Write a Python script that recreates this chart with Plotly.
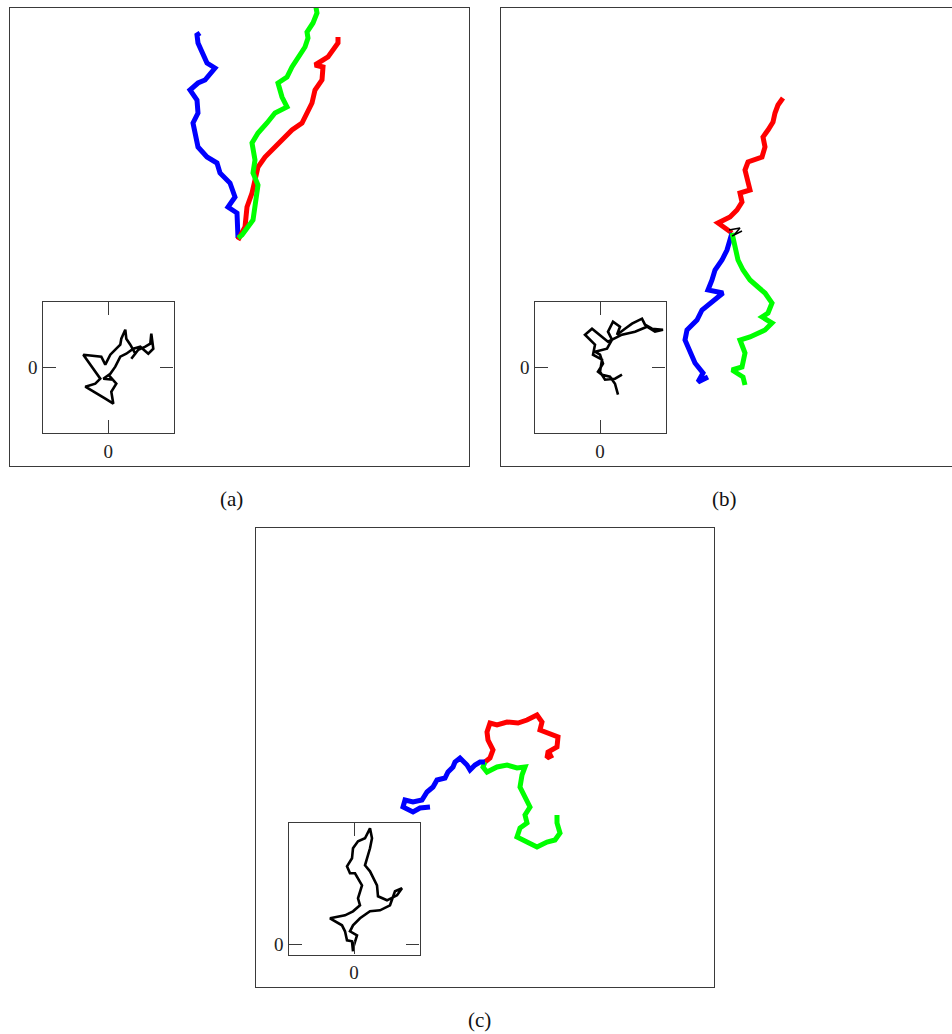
import plotly.graph_objects as go

W, H = 952, 1034

# ---------------- data (walk coordinates, origin = common start) ----------------
# Panel (a) main paths
a_blue_x = [0, 0, -1, -10, -3, -8, -18, -21, -31, -40, -43, -45, -40, -41, -48, -40, -33, -26, -23, -31, -36, -40, -41, -38]
a_blue_y = [0, 5, 25, 31, 41, 55, 65, 75, 81, 91, 105, 115, 125, 138, 148, 155, 158, 166, 170, 175, 185, 195, 203, 205]
a_green_x = [0, 4, 15, 17, 19, 20, 15, 17, 14, 20, 29, 37, 49, 44, 40, 49, 54, 60, 67, 70, 69, 75, 79, 77]
a_green_y = [0, 3, 18, 31, 41, 53, 65, 78, 95, 105, 115, 125, 131, 141, 155, 161, 171, 181, 191, 200, 206, 215, 225, 236]
a_red_x = [0, 7, 9, 14, 17, 20, 27, 34, 44, 54, 64, 69, 74, 77, 84, 85, 77, 90, 95, 100, 100]
a_red_y = [-2, 11, 31, 45, 58, 71, 81, 88, 98, 108, 115, 125, 135, 148, 158, 171, 173, 181, 188, 195, 201]
# Panel (a) inset path
a_in_x = [0, 8, 3, 5, -3, -10, -15, -23, -13, -8, -25, -7, -3, 2, 8, 12, 13, 17, 18, 22, 27, 23, 30, 37, 42, 43, 45, 40, 32, 25, 18, 12, 7, 2, -5, 5]
a_in_y = [-7, -16, -24, -36, -31, -27, -24, -19, -16, -11, 13, 11, 3, 13, 19, 23, 29, 38, 29, 23, 14, 9, 18, 21, 24, 34, 19, 14, 21, 19, 14, 11, 1, -6, -11, -12]

# Panel (b) main paths
b_red_x = [0, -9, -14, -2, 5, 10, 8, 18, 16, 13, 16, 23, 30, 33, 31, 36, 41, 43, 46, 51]
b_red_y = [0, 6, 10, 16, 23, 31, 40, 43, 53, 63, 71, 73, 76, 86, 96, 103, 111, 120, 128, 135]
b_blue_x = [0, -5, -10, -17, -20, -24, -9, -22, -30, -35, -45, -47, -42, -37, -29, -34, -24]
b_blue_y = [0, -17, -27, -37, -47, -57, -60, -70, -77, -87, -97, -107, -120, -130, -140, -149, -144]
b_green_x = [0, 3, 6, 11, 18, 26, 33, 40, 36, 30, 40, 33, 18, 8, 13, 10, 0, 11, 13]
b_green_y = [0, -14, -27, -37, -47, -54, -60, -70, -80, -84, -90, -97, -104, -107, -120, -134, -137, -144, -152]
b_black_x = [-3, 8, 2, 10, 0]
b_black_y = [3, 5, -2, 2, -3]
# Panel (b) inset path
b_in_x = [18, 15, 10, 2, -2, 3, 0, -5, 7, 12, 8, 13, 20, 17, 25, 32, 42, 45, 52, 63, 55, 47, 35, 22, 8, -2, -8, -15, -10, -5, -7, 2, 0, 5, 15, 22]
b_in_y = [-27, -16, -9, -7, -4, 4, 13, 16, 19, 28, 36, 46, 41, 33, 39, 44, 49, 43, 39, 38, 36, 41, 36, 33, 26, 34, 39, 33, 28, 23, 13, 8, -4, -12, -11, -7]

# Panel (c) main paths
c_blue_x = [0, -5, -10, -15, -18, -25, -30, -32, -37, -40, -48, -52, -58, -63, -72, -80, -82, -72, -65, -55]
c_blue_y = [0, 0, -3, -8, -3, 4, 0, -5, -10, -16, -18, -25, -30, -38, -40, -38, -45, -50, -46, -45]
c_red_x = [0, 5, 8, 3, 2, 5, 12, 22, 33, 42, 52, 57, 55, 63, 73, 72, 63, 62, 68]
c_red_y = [0, 4, 12, 22, 30, 39, 37, 40, 39, 42, 47, 40, 32, 29, 25, 15, 10, 4, 7]
c_green_x = [0, -2, 2, 12, 22, 32, 40, 37, 35, 40, 45, 40, 42, 35, 32, 42, 52, 62, 70, 75, 72, 72]
c_green_y = [0, -5, -10, -5, -3, -6, -5, -13, -25, -36, -45, -53, -61, -66, -75, -80, -85, -80, -78, -71, -61, -53]
# Panel (c) inset path
c_in_x = [-1, -2, -7, -9, -12, -24, -9, -1, 6, 4, 8, 4, 1, -4, -7, -2, -1, 4, 11, 16, 18, 16, 11, 16, 23, 24, 33, 43, 48, 41, 36, 26, 16, 6, -1, -4, 3, -1]
c_in_y = [-7, 3, 4, 13, 19, 26, 29, 33, 39, 46, 59, 66, 71, 71, 78, 86, 96, 103, 106, 116, 106, 96, 79, 73, 59, 48, 44, 49, 56, 53, 39, 34, 33, 26, 19, 13, 9, -4]

tick_vals = [0]
tick_text = ["0"]
panel_labels = ["(a)", "(b)", "(c)"]

BLUE, RED, GREEN, BLACK = "#0000ff", "#ff0000", "#00ff00", "#000000"

# ---------------- layout helpers (page pixel boxes) ----------------
def dx(p0, p1):
    return [p0 / W, min(p1 / W, 1.0)]

def dy(top, bottom):
    return [1 - bottom / H, 1 - top / H]

fig = go.Figure()

def add(xs, ys, color, ax, width=5):
    fig.add_trace(go.Scatter(x=xs, y=ys, mode="lines",
                             line=dict(color=color, width=width),
                             xaxis="x" + ax, yaxis="y" + ax,
                             hoverinfo="skip", showlegend=False))

# (a)
add(a_blue_x, a_blue_y, BLUE, "")
add(a_red_x, a_red_y, RED, "")
add(a_green_x, a_green_y, GREEN, "")
add(a_in_x, a_in_y, BLACK, "2", 2.6)
# (b)
add(b_red_x, b_red_y, RED, "3")
add(b_blue_x, b_blue_y, BLUE, "3")
add(b_green_x, b_green_y, GREEN, "3")
add(b_black_x, b_black_y, BLACK, "3", 1.5)
add(b_in_x, b_in_y, BLACK, "4", 2.6)
# (c)
add(c_red_x, c_red_y, RED, "5")
add(c_green_x, c_green_y, GREEN, "5")
add(c_blue_x, c_blue_y, BLUE, "5")
add(c_in_x, c_in_y, BLACK, "6", 2.6)

LINE = "#3a3a3a"
TFONT = dict(family="Liberation Serif", size=19, color="#222222")

def main_axes(xdom, ydom, xr, yr, ymirror=True):
    xa = dict(domain=xdom, range=xr, showline=True, mirror=True, linecolor=LINE,
              linewidth=1, showgrid=False, zeroline=False, showticklabels=False,
              ticks="", fixedrange=True)
    ya = dict(domain=ydom, range=yr, showline=True, mirror=ymirror, linecolor=LINE,
              linewidth=1, showgrid=False, zeroline=False, showticklabels=False,
              ticks="", fixedrange=True)
    return xa, ya

def inset_axes(xdom, ydom, xr, yr):
    common = dict(showline=True, mirror="ticks", linecolor=LINE, linewidth=1.3,
                  showgrid=False, zeroline=False, ticks="inside", ticklen=13,
                  tickwidth=1.3, tickcolor=LINE, tickvals=tick_vals,
                  ticktext=tick_text, tickfont=TFONT, fixedrange=True)
    xa = dict(domain=xdom, range=xr, ticklabelstandoff=1, **common)
    ya = dict(domain=ydom, range=yr, **common)
    return xa, ya

xa1, ya1 = main_axes(dx(10, 469), dy(8, 466), [-228, 231], [-228, 230])
xa2, ya2 = inset_axes(dx(42.5, 173.5), dy(301.5, 433), [-65.8, 65.2], [-65.3, 66.2])
xa3, ya3 = main_axes(dx(501, 952), dy(8, 466), [-231, 220], [-233, 225], ymirror=False)
xa4, ya4 = inset_axes(dx(534.5, 665.5), dy(301.5, 433), [-65.5, 65.5], [-65.3, 66.2])
xa5, ya5 = main_axes(dx(256, 714), dy(528, 987), [-229, 229], [-225, 234])
xa6, ya6 = inset_axes(dx(288.5, 419.5), dy(823, 954.5), [-65.5, 65.5], [-10.2, 121.3])

fig.update_layout(
    width=W, height=H, margin=dict(l=0, r=0, t=0, b=0),
    paper_bgcolor="white", plot_bgcolor="white", showlegend=False,
    xaxis=dict(anchor="y", **xa1), yaxis=dict(anchor="x", **ya1),
    xaxis2=dict(anchor="y2", **xa2), yaxis2=dict(anchor="x2", **ya2),
    xaxis3=dict(anchor="y3", **xa3), yaxis3=dict(anchor="x3", **ya3),
    xaxis4=dict(anchor="y4", **xa4), yaxis4=dict(anchor="x4", **ya4),
    xaxis5=dict(anchor="y5", **xa5), yaxis5=dict(anchor="x5", **ya5),
    xaxis6=dict(anchor="y6", **xa6), yaxis6=dict(anchor="x6", **ya6),
)

LFONT = dict(family="Liberation Serif", size=21, color="#111111")
for text, (px, py) in zip(panel_labels, [(231, 499), (724, 499), (479, 1020)]):
    fig.add_annotation(text=text, x=px / W, y=1 - py / H, xref="paper", yref="paper",
                       showarrow=False, font=LFONT, xanchor="center", yanchor="middle")

fig.write_html("out.html")
